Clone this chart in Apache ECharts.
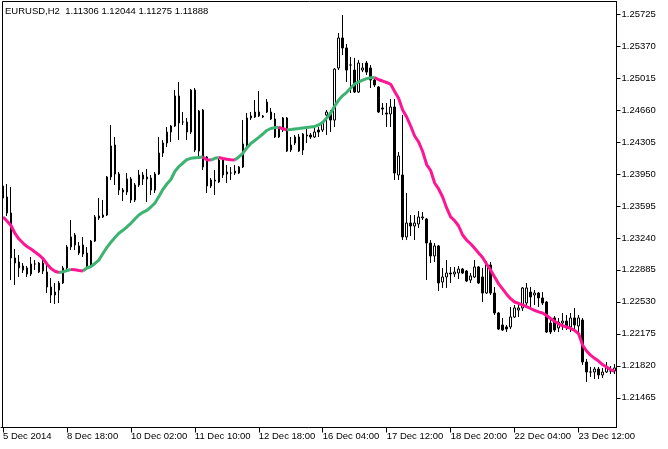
<!DOCTYPE html>
<html><head><meta charset="utf-8">
<script src="https://cdn.jsdelivr.net/npm/echarts@6/dist/echarts.min.js"></script>
<style>html,body{margin:0;padding:0;background:#fff}#c{width:668px;height:449px}</style>
</head><body><div id="c"></div>
<script>
const title = "EURUSD,H2  1.11306 1.12044 1.11275 1.11888";
const xTickLabels = ["5 Dec 2014","8 Dec 18:00","10 Dec 02:00","11 Dec 10:00","12 Dec 18:00","16 Dec 04:00","17 Dec 12:00","18 Dec 20:00","22 Dec 04:00","23 Dec 12:00"];
const barsPerLabel = 16;
const yTickValues = [1.21465,1.21820,1.22175,1.22530,1.22885,1.23240,1.23595,1.23950,1.24305,1.24660,1.25015,1.25370,1.25725];

const opens = [1.23816,1.23694,1.23516,1.23017,1.22972,1.22928,1.22906,1.22839,1.22950,1.22961,
1.22872,1.22861,1.22695,1.22639,1.22661,1.22739,1.22906,1.23139,1.23272,1.23072,
1.23161,1.23072,1.22939,1.23205,1.23461,1.23472,1.23494,1.23916,1.24271,1.23949,
1.23771,1.23749,1.23894,1.23660,1.23827,1.23938,1.23894,1.23905,1.23771,1.23949,
1.24182,1.24293,1.24415,1.24482,1.24815,1.24526,1.24526,1.24415,1.24881,1.24204,
1.24659,1.24138,1.23816,1.23871,1.23860,1.24104,1.23949,1.23960,1.23982,1.23960,
1.24027,1.24271,1.24571,1.24582,1.24593,1.24593,1.24748,1.24637,1.24560,1.24360,
1.24437,1.24571,1.24271,1.24293,1.24360,1.24215,1.24382,1.24382,1.24360,1.24437,
1.24437,1.24604,1.24626,1.24548,1.25126,1.25459,1.25348,1.25159,1.25103,1.24859,
1.25103,1.25181,1.25126,1.24992,1.24915,1.24682,1.24626,1.24615,1.24693,1.23938,
1.23938,1.23250,1.23405,1.23372,1.23394,1.23461,1.23449,1.23183,1.23039,1.23150,
1.22750,1.22806,1.22850,1.22839,1.22850,1.22894,1.22872,1.22772,1.22806,1.22917,
1.22806,1.22628,1.22939,1.22628,1.22406,1.22273,1.22251,1.22251,1.22362,1.22439,
1.22462,1.22517,1.22639,1.22606,1.22628,1.22573,1.22528,1.22295,1.22351,1.22240,
1.22295,1.22317,1.22251,1.22351,1.22262,1.22328,1.21862,1.21751,1.21751,1.21784,
1.21718,1.21751,1.21762,1.21762];
const highs = [1.23838,1.23838,1.23805,1.23117,1.23050,1.22961,1.22928,1.23028,1.22994,1.22972,
1.22994,1.22939,1.22795,1.22739,1.22761,1.22928,1.23161,1.23438,1.23294,1.23194,
1.23250,1.23139,1.23216,1.23494,1.23683,1.23660,1.23927,1.24493,1.24360,1.23971,
1.23794,1.23960,1.23916,1.23849,1.23993,1.23971,1.24005,1.23938,1.23971,1.24360,
1.24326,1.24471,1.24493,1.24881,1.24970,1.24637,1.24571,1.24893,1.24904,1.24659,
1.24670,1.24149,1.23905,1.23993,1.24116,1.24127,1.24049,1.24027,1.24049,1.24038,
1.24548,1.24626,1.24637,1.24770,1.24870,1.24604,1.24782,1.24682,1.24626,1.24471,
1.24582,1.24582,1.24360,1.24382,1.24393,1.24404,1.24471,1.24404,1.24460,1.24471,
1.24526,1.24659,1.24659,1.25126,1.25514,1.25714,1.25392,1.25248,1.25237,1.25214,
1.25181,1.25203,1.25159,1.25015,1.24926,1.24737,1.24737,1.24782,1.24782,1.24193,
1.24604,1.23738,1.23494,1.23494,1.23538,1.23527,1.23461,1.23216,1.23183,1.23161,
1.22906,1.22994,1.22917,1.22917,1.22928,1.22906,1.22883,1.22850,1.22994,1.22928,
1.22906,1.22983,1.22972,1.22695,1.22417,1.22351,1.22273,1.22473,1.22495,1.22495,
1.22695,1.22739,1.22695,1.22661,1.22639,1.22639,1.22539,1.22362,1.22373,1.22351,
1.22406,1.22384,1.22406,1.22462,1.22384,1.22351,1.21896,1.21807,1.21807,1.21807,
1.21796,1.21862,1.21818,1.21840];
const lows = [1.23660,1.23483,1.22772,1.22717,1.22806,1.22850,1.22806,1.22817,1.22883,1.22850,
1.22839,1.22628,1.22517,1.22506,1.22517,1.22728,1.22883,1.23105,1.23105,1.23050,
1.23028,1.22917,1.22917,1.23194,1.23438,1.23461,1.23483,1.23882,1.23827,1.23716,
1.23649,1.23716,1.23627,1.23638,1.23805,1.23827,1.23638,1.23716,1.23738,1.23938,
1.24138,1.24249,1.24304,1.24471,1.24326,1.24493,1.24326,1.24393,1.24193,1.24138,
1.23993,1.23738,1.23794,1.23716,1.23849,1.23905,1.23849,1.23882,1.23938,1.23949,
1.24016,1.24249,1.24548,1.24571,1.24582,1.24571,1.24626,1.24548,1.24349,1.24349,
1.24415,1.24193,1.24193,1.24271,1.24193,1.24160,1.24293,1.24338,1.24349,1.24360,
1.24415,1.24382,1.24415,1.24471,1.25103,1.25270,1.24970,1.24848,1.24848,1.24848,
1.25081,1.25048,1.24904,1.24915,1.24626,1.24604,1.24471,1.24471,1.23882,1.23882,
1.23216,1.23216,1.23261,1.23216,1.23350,1.23438,1.22772,1.22961,1.22972,1.22650,
1.22684,1.22684,1.22739,1.22806,1.22784,1.22839,1.22750,1.22739,1.22795,1.22728,
1.22528,1.22617,1.22606,1.22384,1.22217,1.22206,1.22195,1.22228,1.22351,1.22362,
1.22428,1.22473,1.22473,1.22495,1.22473,1.22495,1.22184,1.22173,1.22195,1.22195,
1.22217,1.22217,1.22195,1.22217,1.22184,1.21829,1.21640,1.21696,1.21674,1.21674,
1.21685,1.21740,1.21729,1.21729];
const closes = [1.23683,1.23516,1.23017,1.22961,1.22906,1.22883,1.22839,1.22950,1.22950,1.22861,
1.22961,1.22695,1.22606,1.22606,1.22739,1.22906,1.23139,1.23250,1.23161,1.23150,
1.23061,1.22928,1.23205,1.23472,1.23483,1.23494,1.23916,1.24260,1.23949,1.23771,
1.23749,1.23894,1.23660,1.23827,1.23938,1.23894,1.23916,1.23771,1.23949,1.24182,
1.24293,1.24415,1.24482,1.24815,1.24515,1.24526,1.24415,1.24881,1.24215,1.24648,
1.24027,1.23816,1.23882,1.23882,1.24104,1.23938,1.23971,1.23960,1.23960,1.24027,
1.24282,1.24571,1.24593,1.24637,1.24637,1.24582,1.24637,1.24560,1.24360,1.24449,
1.24571,1.24204,1.24215,1.24360,1.24204,1.24393,1.24371,1.24360,1.24415,1.24415,
1.24515,1.24637,1.24548,1.25114,1.25459,1.25348,1.25103,1.25159,1.24859,1.25181,
1.25126,1.25081,1.24992,1.24937,1.24637,1.24670,1.24615,1.24693,1.23960,1.24149,
1.23250,1.23405,1.23372,1.23405,1.23472,1.23472,1.23183,1.23039,1.23150,1.22739,
1.22806,1.22850,1.22839,1.22861,1.22894,1.22850,1.22761,1.22817,1.22917,1.22739,
1.22628,1.22939,1.22628,1.22406,1.22228,1.22217,1.22228,1.22362,1.22462,1.22462,
1.22684,1.22684,1.22584,1.22628,1.22573,1.22517,1.22195,1.22195,1.22217,1.22306,
1.22317,1.22251,1.22351,1.22273,1.22351,1.21862,1.21751,1.21751,1.21784,1.21718,
1.21751,1.21796,1.21762,1.21796];
const maValues = [1.23472,1.23427,1.23377,1.23289,1.23227,1.23183,1.23144,1.23117,1.23083,1.23050,
1.23011,1.22950,1.22900,1.22870,1.22856,1.22863,1.22878,1.22889,1.22886,1.22878,
1.22872,1.22906,1.22922,1.22956,1.22994,1.23067,1.23135,1.23191,1.23244,1.23291,
1.23324,1.23361,1.23402,1.23450,1.23494,1.23524,1.23546,1.23583,1.23625,1.23699,
1.23777,1.23838,1.23888,1.23977,1.24032,1.24071,1.24108,1.24123,1.24129,1.24133,
1.24138,1.24107,1.24104,1.24123,1.24132,1.24121,1.24112,1.24108,1.24105,1.24138,
1.24177,1.24238,1.24288,1.24321,1.24356,1.24393,1.24432,1.24454,1.24464,1.24469,
1.24451,1.24440,1.24443,1.24449,1.24453,1.24459,1.24465,1.24471,1.24477,1.24493,
1.24523,1.24571,1.24626,1.24704,1.24770,1.24820,1.24856,1.24904,1.24948,1.24972,
1.24992,1.25008,1.25017,1.25020,1.24995,1.24981,1.24965,1.24945,1.24865,1.24787,
1.24659,1.24582,1.24482,1.24371,1.24304,1.24199,1.24054,1.23988,1.23849,1.23783,
1.23694,1.23572,1.23472,1.23432,1.23372,1.23272,1.23216,1.23175,1.23124,1.23072,
1.23022,1.22950,1.22883,1.22806,1.22730,1.22673,1.22615,1.22565,1.22528,1.22512,
1.22497,1.22477,1.22456,1.22436,1.22419,1.22406,1.22378,1.22345,1.22315,1.22286,
1.22264,1.22251,1.22235,1.22214,1.22178,1.22051,1.21984,1.21938,1.21903,1.21873,
1.21834,1.21807,1.21779,1.21757];

const FONT = 'Liberation Sans';
const FS = 9.5;
const n = opens.length;
const cats = opens.map((_, i) => String(i));
const candleData = opens.map((o, i) => [o, closes[i], lows[i], highs[i]]);
const upLine = new Array(n).fill(null);
const downLine = new Array(n).fill(null);
for (let i = 0; i < n - 1; i++) {
  const t = maValues[i + 1] >= maValues[i] ? upLine : downLine;
  t[i] = maValues[i];
  t[i + 1] = maValues[i + 1];
}
const showTick = (idx) => idx % barsPerLabel === 0;

const chart = echarts.init(document.getElementById('c'), null, {renderer: 'canvas'});
chart.setOption({
  animation: false,
  backgroundColor: '#fff',
  grid: {left: 0.5, top: 1.5, width: 616, height: 426, containLabel: false},
  xAxis: {
    type: 'category', data: cats, boundaryGap: true,
    axisLine: {show: true, lineStyle: {color: '#000', width: 1}},
    axisTick: {show: true, interval: showTick, alignWithLabel: true, length: 5, lineStyle: {color: '#000'}},
    axisLabel: {show: true, interval: showTick, align: 'left', margin: 4, color: '#000',
      fontFamily: FONT, fontSize: FS,
      formatter: (v, idx) => xTickLabels[Math.round(idx / barsPerLabel)] || ''},
    splitLine: {show: false}
  },
  yAxis: {
    type: 'value', position: 'right', min: 1.21135, max: 1.25864,
    axisLine: {show: true, lineStyle: {color: '#000'}},
    axisTick: {show: true, customValues: yTickValues, length: 4, lineStyle: {color: '#000'}},
    axisLabel: {show: true, customValues: yTickValues, margin: 5, color: '#000', fontFamily: FONT, fontSize: FS,
      formatter: (v) => v.toFixed(5)},
    splitLine: {show: false}
  },
  graphic: [
    {type: 'line', shape: {x1: 2.5, y1: 1.5, x2: 616.5, y2: 1.5}, style: {stroke: '#000', lineWidth: 1}, z: 10},
    {type: 'line', shape: {x1: 2.5, y1: 1.5, x2: 2.5, y2: 427.5}, style: {stroke: '#000', lineWidth: 1}, z: 10},
    {type: 'text', x: 5, y: 11, style: {text: title, fill: '#000', font: FS + 'px "' + FONT + '"', textVerticalAlign: 'middle'}, z: 10}
  ],
  series: [
    {type: 'candlestick', data: candleData, barWidth: 2, silent: true, z: 2,
      itemStyle: {color: '#fff', color0: '#000', borderColor: '#000', borderColor0: '#000', borderColorDoji: '#000', borderWidth: 1}},
    {type: 'line', data: upLine, symbol: 'none', showSymbol: false, silent: true, z: 3,
      lineStyle: {color: '#3cb371', width: 3}},
    {type: 'line', data: downLine, symbol: 'none', showSymbol: false, silent: true, z: 3,
      lineStyle: {color: '#ff1493', width: 3}}
  ]
});
</script></body></html>
